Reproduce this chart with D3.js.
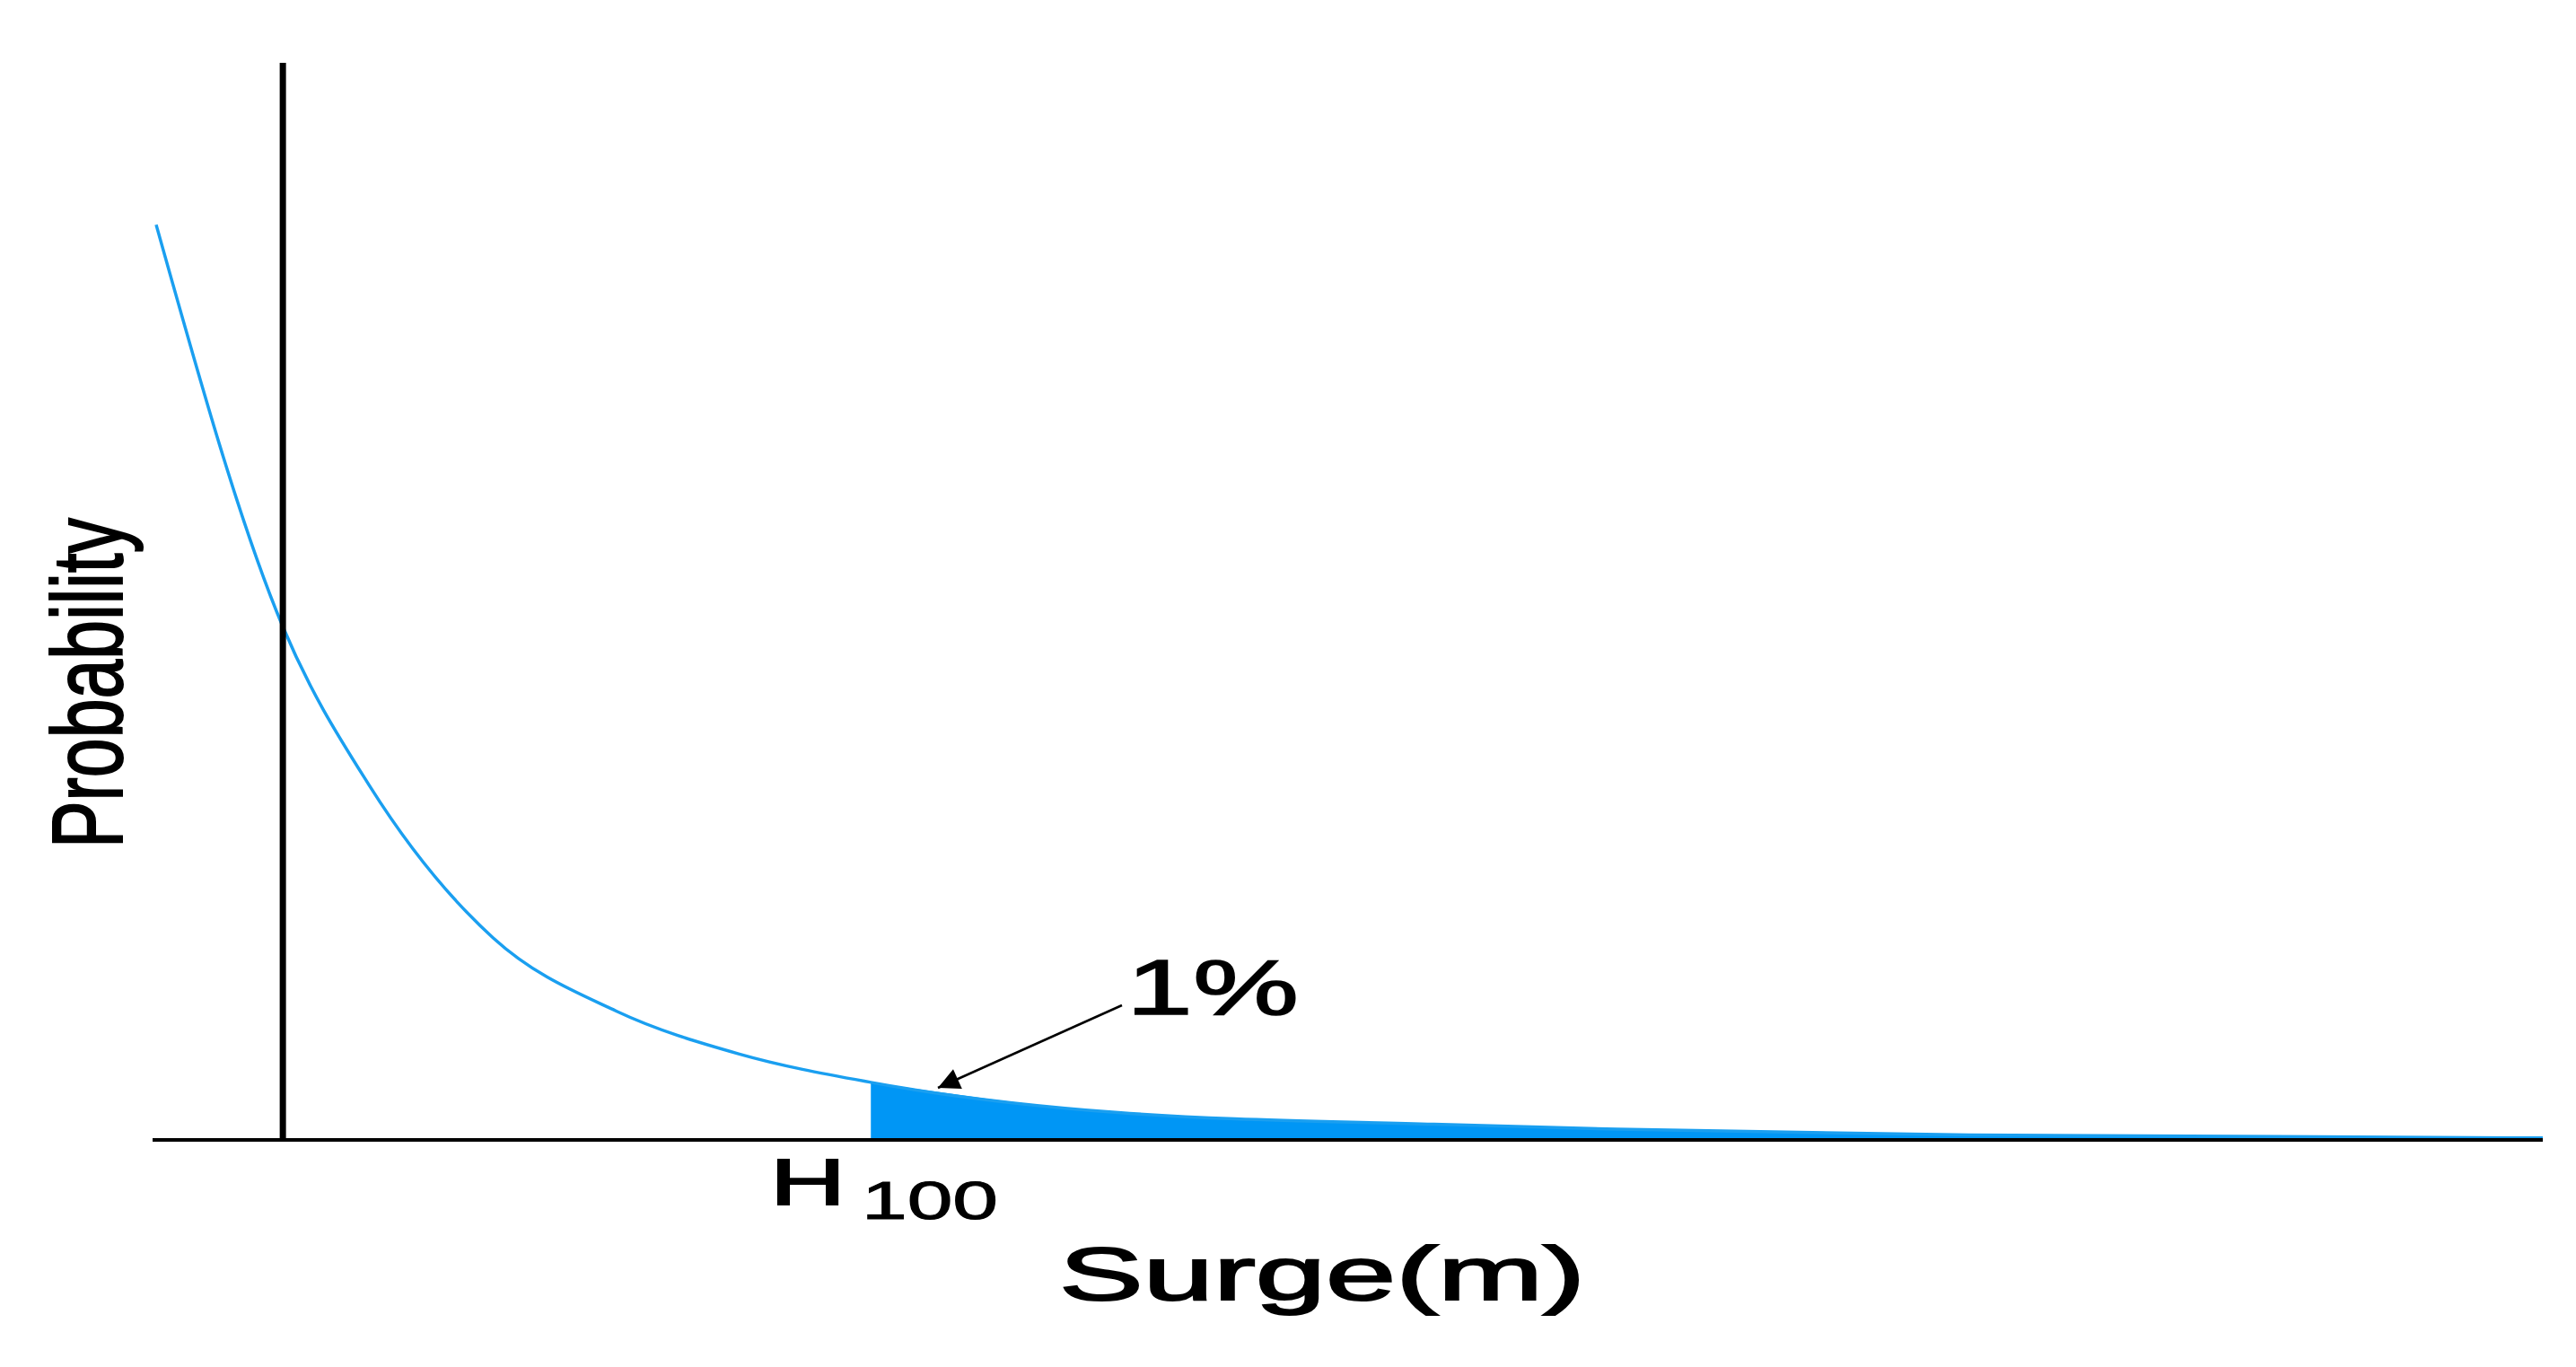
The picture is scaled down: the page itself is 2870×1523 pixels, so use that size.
<!DOCTYPE html>
<html><head><meta charset="utf-8">
<script src="https://cdn.jsdelivr.net/npm/d3@7"></script>
<style>html,body{margin:0;background:#fff}</style></head>
<body><svg id="c" width="2870" height="1523"></svg>
<script>
const surge = [0.03,1.09,1.81,2.85,3.88,4.91,6.01,8.08,10.72,12.25,15.2,20];
const prob  = [0.938,0.526,0.364,0.207,0.132,0.088,0.059,0.028,0.016,0.011,0.005,0.002];
const refX = 1.09, h100 = 6.01;
const pts = surge.map((s,i)=>({s, p:prob[i]}));

const svg = d3.select("#c");
const x = d3.scaleLinear().domain([0,20]).range([170,2833]);
const y = d3.scaleLinear().domain([0,1]).range([1270,183]);
const font = "'Liberation Sans', Arial, sans-serif";

const tail = pts.filter(d=>d.s>=h100);
svg.append("path").datum(tail)
  .attr("d", d3.area().x(d=>x(d.s)).y0(y(0)).y1(d=>y(d.p)).curve(d3.curveMonotoneX))
  .attr("fill","#0096f5");

svg.append("path").datum(pts)
  .attr("d", d3.line().x(d=>x(d.s)).y(d=>y(d.p)).curve(d3.curveMonotoneX))
  .attr("fill","none").attr("stroke","#1a9ff0").attr("stroke-width",3.5);

svg.append("line").attr("x1",x(0)).attr("x2",x(20)).attr("y1",y(0)).attr("y2",y(0))
  .attr("stroke","#000").attr("stroke-width",4);
svg.append("line").attr("x1",x(refX)).attr("x2",x(refX)).attr("y1",70).attr("y2",y(0))
  .attr("stroke","#000").attr("stroke-width",7);

svg.append("defs").append("marker").attr("id","ah").attr("viewBox","0 0 10 10")
  .attr("refX",10).attr("refY",5).attr("markerWidth",48).attr("markerHeight",24)
  .attr("markerUnits","userSpaceOnUse").attr("orient","auto")
  .append("path").attr("d","M0,0 L10,5 L0,10 z").attr("fill","#000");
svg.append("line").attr("x1",1250).attr("y1",1120).attr("x2",1045).attr("y2",1212)
  .attr("stroke","#000").attr("stroke-width",2.5).attr("marker-end","url(#ah)");

svg.append("text").attr("x",1255).attr("y",1130).attr("font-family",font)
  .attr("font-size",88).attr("stroke","#000").attr("stroke-width",1.5)
  .attr("textLength",192).attr("lengthAdjust","spacingAndGlyphs").text("1%");

svg.append("text").attr("x",858).attr("y",1342).attr("font-family",font).attr("font-size",72)
  .attr("stroke","#000").attr("stroke-width",2)
  .attr("textLength",84).attr("lengthAdjust","spacingAndGlyphs").text("H");
svg.append("text").attr("x",960).attr("y",1358).attr("font-family",font).attr("font-size",60)
  .attr("stroke","#000").attr("stroke-width",1)
  .attr("textLength",152).attr("lengthAdjust","spacingAndGlyphs").text("100");

svg.append("text").attr("x",1180).attr("y",1448).attr("font-family",font).attr("font-size",84)
  .attr("stroke","#000").attr("stroke-width",2)
  .attr("textLength",586).attr("lengthAdjust","spacingAndGlyphs").text("Surge(m)");

svg.append("text").attr("transform","translate(136,945) rotate(-90)").attr("font-family",font)
  .attr("font-size",112).attr("stroke","#000").attr("stroke-width",2)
  .attr("textLength",368).attr("lengthAdjust","spacingAndGlyphs").text("Probability");
</script></body></html>
